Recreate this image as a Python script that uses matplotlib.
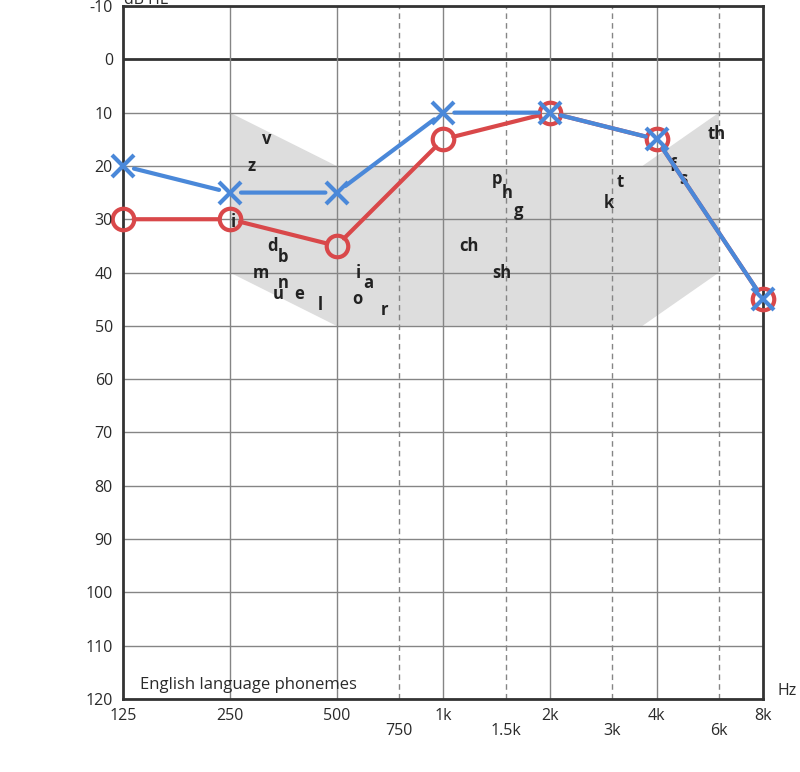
import numpy as np
import matplotlib
matplotlib.use('Agg')
import matplotlib.pyplot as plt

plt.rcParams['font.family'] = ['Open Sans', 'DejaVu Sans']

# audiogram thresholds (dB HL)
freqs = [125, 250, 500, 1000, 2000, 4000, 8000]
right_ear = [30, 30, 35, 15, 10, 15, 45]   # red O
left_ear = [20, 25, 25, 10, 10, 15, 45]    # blue X

octave_ticks = [125, 250, 500, 1000, 2000, 4000, 8000]
octave_labels = ['125', '250', '500', '1k', '2k', '4k', '8k']
half_ticks = [750, 1500, 3000, 6000]
half_labels = ['750', '1.5k', '3k', '6k']
db_ticks = list(range(-10, 121, 10))

# speech banana outline (freq, dB)
banana_f = [250, 500, 3650, 6000, 6000, 3650, 500, 250]
banana_db = [10, 20, 20, 10, 40, 50, 50, 40]

# phoneme labels (text, freq, dB)
phonemes = [
    ('v', 318, 15), ('z', 287, 20), ('i', 255, 30.5), ('d', 330, 35),
    ('b', 354, 37), ('m', 306, 40), ('n', 354, 42), ('u', 342, 44),
    ('e', 392, 44), ('l', 450, 46), ('i', 575, 40), ('a', 615, 42),
    ('o', 571, 45), ('r', 682, 47), ('ch', 1180, 35), ('sh', 1460, 40),
    ('p', 1420, 22.5), ('h', 1520, 25), ('g', 1630, 28.5), ('t', 3160, 23),
    ('k', 2930, 27), ('f', 4460, 20), ('s', 4760, 22.5), ('th', 5900, 14),
]

RED = '#d9484a'
BLUE = '#4a88d9'
TXT = '#2a2a2a'

fig = plt.figure(figsize=(8, 7.72), dpi=100)
ax = fig.add_axes([0.154, 0.0946, 0.8, 0.8976])
ax.set_xscale('log', base=2)
ax.set_xlim(125, 8000)
ax.set_ylim(120, -10)

ax.fill(banana_f, banana_db, color='#dddddd', zorder=0, lw=0)

for d in db_ticks:
    if d == 0:
        ax.axhline(d, color='#333333', lw=2, zorder=1)
    else:
        ax.axhline(d, color='#858585', lw=1, zorder=1)
for f in octave_ticks[1:-1]:
    ax.axvline(f, color='#858585', lw=1, zorder=1)
for f in half_ticks:
    ax.axvline(f, color='#858585', lw=1, ls=(0, (4, 3)), zorder=1)

for txt, f, d in phonemes:
    ax.text(f, d, txt, ha='center', va='center', fontsize=12,
            fontweight='bold', color='#222222', zorder=2)


def ear_line(xs, ys, color, marker, ms, gap, z):
    # connecting segments stop at the marker edge
    for i in range(len(xs) - 1):
        ax.annotate('', xy=(xs[i + 1], ys[i + 1]), xytext=(xs[i], ys[i]),
                    arrowprops=dict(arrowstyle='-', color=color, lw=3,
                                    shrinkA=gap, shrinkB=gap),
                    zorder=z, annotation_clip=False)
    ax.plot(xs, ys, ls='none', marker=marker, ms=ms, mfc='none', mec=color,
            mew=3, zorder=z, clip_on=False)


ear_line(freqs, right_ear, RED, 'o', 15.5, 7.5, 3)
ear_line(freqs, left_ear, BLUE, 'x', 16, 8, 4)

for s in ax.spines.values():
    s.set_linewidth(2)
    s.set_color('#333333')

ax.set_xticks([])
ax.set_yticks([])
ax.minorticks_off()

# y tick labels
for d in db_ticks:
    ax.text(-0.016, d, str(d), transform=ax.get_yaxis_transform(),
            ha='right', va='center_baseline', fontsize=11.5, color=TXT)

# x tick labels
for f, lab in zip(octave_ticks, octave_labels):
    ax.text(f, -0.025, lab, transform=ax.get_xaxis_transform(),
            ha='center', va='center', fontsize=11.5, color=TXT)
for f, lab in zip(half_ticks, half_labels):
    ax.text(f, -0.046, lab, transform=ax.get_xaxis_transform(),
            ha='center', va='center', fontsize=11.5, color=TXT)

ax.text(1.037, 0.012, 'Hz', transform=ax.transAxes, ha='center', va='center',
        fontsize=11.5, color=TXT)
ax.text(0.027, 0.02, 'English language phonemes', transform=ax.transAxes,
        ha='left', va='center', fontsize=12, color=TXT)
fig.text(0.155, 1.0, 'dB HL', ha='left', va='center', fontsize=11.5, color=TXT)

fig.savefig('out.png', dpi=100)
